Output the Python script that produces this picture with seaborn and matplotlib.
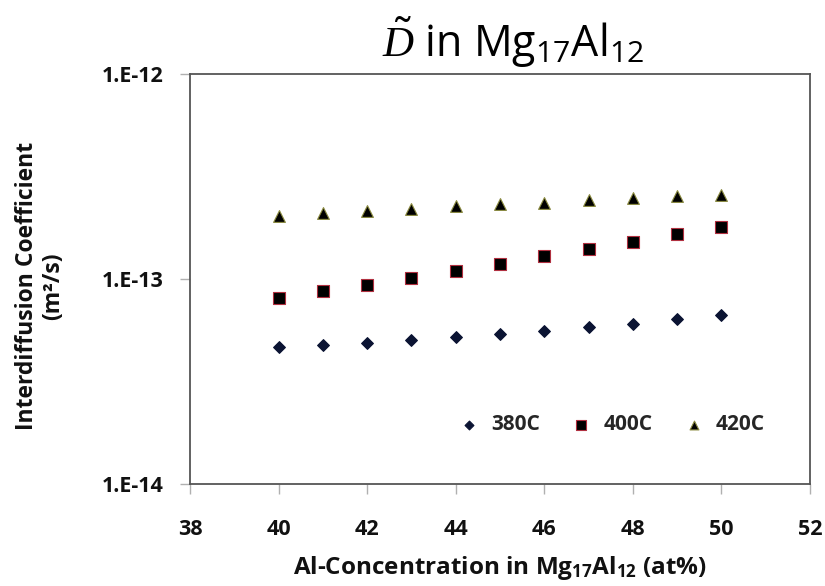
import matplotlib
matplotlib.use("Agg")
import matplotlib.pyplot as plt
import seaborn as sns
import pandas as pd

# ---- data ----
al_conc = [40, 41, 42, 43, 44, 45, 46, 47, 48, 49, 50]
d_380 = [4.66e-14, 4.79e-14, 4.89e-14, 5.02e-14, 5.21e-14, 5.37e-14,
         5.57e-14, 5.83e-14, 6.06e-14, 6.37e-14, 6.65e-14]
d_400 = [8.04e-14, 8.73e-14, 9.33e-14, 1.01e-13, 1.09e-13, 1.18e-13,
         1.29e-13, 1.40e-13, 1.52e-13, 1.66e-13, 1.79e-13]
d_420 = [2.02e-13, 2.10e-13, 2.15e-13, 2.20e-13, 2.26e-13, 2.32e-13,
         2.36e-13, 2.43e-13, 2.48e-13, 2.53e-13, 2.58e-13]
series_names = ["380C", "400C", "420C"]
x_ticks = [38, 40, 42, 44, 46, 48, 50, 52]
y_ticks = [1e-14, 1e-13, 1e-12]
y_tick_labels = ["1.E-14", "1.E-13", "1.E-12"]

sns.set_theme(style="white")
plt.rcParams["font.family"] = ["Open Sans", "DejaVu Sans"]
plt.rcParams["mathtext.fontset"] = "custom"
plt.rcParams["mathtext.rm"] = "Open Sans"
plt.rcParams["mathtext.bf"] = "Open Sans:bold"
plt.rcParams["mathtext.it"] = "Liberation Serif:italic"

fig = plt.figure(figsize=(8.25, 5.86), dpi=100)
ax = fig.add_axes([190 / 825, 1 - 484 / 586, 620 / 825, 410 / 586])

styles = {
    "380C": dict(marker="D", s=36, color="#0b1433", edgecolor="#0b1433"),
    "400C": dict(marker="s", s=85, color="#000000", edgecolor="#b03040"),
    "420C": dict(marker="^", s=72, color="#000000", edgecolor="#8a8a40"),
}
for name, vals in zip(series_names, [d_380, d_400, d_420]):
    df = pd.DataFrame({"x": al_conc, "y": vals})
    st = styles[name]
    sns.scatterplot(data=df, x="x", y="y", ax=ax, marker=st["marker"], s=st["s"],
                    color=st["color"], edgecolor=st["edgecolor"], linewidth=0.8,
                    label=name, zorder=3)

ax.set_yscale("log")
ax.set_xlim(38, 52)
ax.set_ylim(1e-14, 1e-12)
ax.set_xticks(x_ticks)
ax.set_xticklabels([str(t) for t in x_ticks], fontweight="bold")
ax.set_yticks(y_ticks)
ax.set_yticklabels(y_tick_labels, fontweight="bold")
ax.yaxis.set_minor_locator(matplotlib.ticker.NullLocator())

for sp in ax.spines.values():
    sp.set_color("#555555")
    sp.set_linewidth(1.3)

ax.tick_params(axis="both", which="major", direction="out", length=7, width=1,
               color="#b0b0b0", labelsize=15.5, labelcolor="#111111")
ax.tick_params(axis="x", pad=18, bottom=True)
ax.tick_params(axis="y", pad=12, left=True)

ax.set_xlabel(r"Al-Concentration in Mg$_{\mathbf{17}}$Al$_{\mathbf{12}}$ (at%)",
              fontsize=17.5, fontweight="bold", color="#111111", labelpad=10)
ax.set_ylabel("Interdiffusion Coefficient\n(m²/s)", fontsize=16.5,
              fontweight="bold", color="#111111", linespacing=1.1)
ax.yaxis.set_label_coords(-0.202, 0.483)

leg = ax.legend(loc="center", bbox_to_anchor=(0.672, 0.144), ncol=3, frameon=False,
                handletextpad=0.05, columnspacing=1.0, markerscale=0.75,
                prop={"weight": "bold", "size": 15})

fig.text(0.622, 1 - 57 / 586, r"$\tilde{D}$ in Mg$_{17}$Al$_{12}$", fontsize=31,
         fontweight="normal", ha="center", va="baseline", color="#000000")

fig.savefig("out.png", dpi=100, facecolor="white")
